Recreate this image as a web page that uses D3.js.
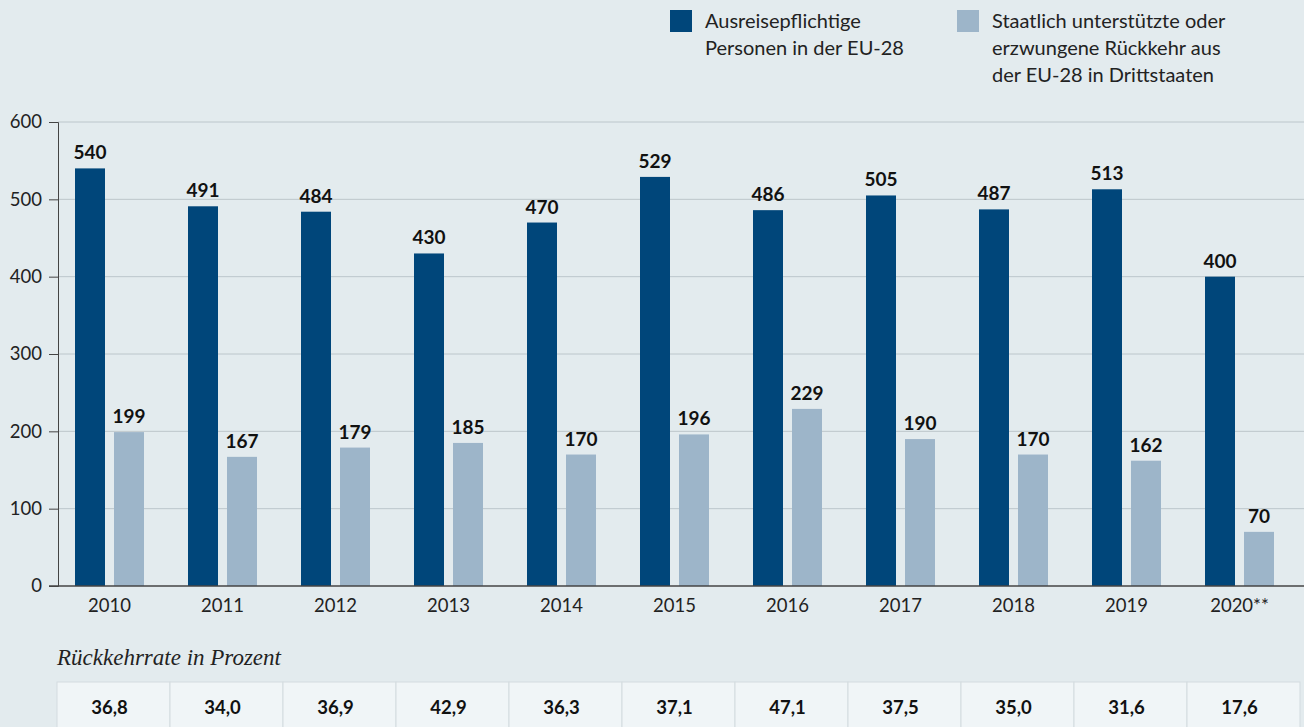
<!DOCTYPE html>
<html>
<head>
<meta charset="utf-8">
<script src="https://cdn.jsdelivr.net/npm/d3@7"></script>
<style>
  body { margin: 0; background: #e3ebee; }
  svg { display: block; font-family: Lato, "Noto Sans", sans-serif; }
</style>
</head>
<body>
<div id="chart"></div>
<script>
// Chart size
var w = 1304;
var h = 727;

// Data
var years = ["2010", "2011", "2012", "2013", "2014", "2015", "2016", "2017", "2018", "2019", "2020**"];
var ausreisepflichtig = [540, 491, 484, 430, 470, 529, 486, 505, 487, 513, 400];
var rueckkehr = [199, 167, 179, 185, 170, 196, 229, 190, 170, 162, 70];
var rueckkehrrate = ["36,8", "34,0", "36,9", "42,9", "36,3", "37,1", "47,1", "37,5", "35,0", "31,6", "17,6"];
var yTicks = [0, 100, 200, 300, 400, 500, 600];
var seriesNames = [
    ["Ausreisepflichtige", "Personen in der EU-28"],
    ["Staatlich unterstützte oder", "erzwungene Rückkehr aus", "der EU-28 in Drittstaaten"]
];

var darkBlue = "#00467a";
var lightBlue = "#9db5c9";
var barW = 30;
var gap = 9;

var svg = d3.select("#chart")
    .append("svg")
    .attr("width", w)
    .attr("height", h);

svg.append("rect").attr("width", w).attr("height", h).attr("fill", "#e3ebee");

// Scales
var xScale = d3.scaleBand()
    .domain(years)
    .range([53, 1296]);

var yScale = d3.scaleLinear()
    .domain([0, 600])
    .range([586, 122]);

// Grid lines
svg.append("g")
    .selectAll("line")
    .data(yTicks.slice(1))
    .enter()
    .append("line")
    .attr("x1", 58)
    .attr("x2", w)
    .attr("y1", function (d) { return yScale(d); })
    .attr("y2", function (d) { return yScale(d); })
    .attr("stroke", "#bcc6cb")
    .attr("stroke-width", 1);

// Y axis
var yAxis = d3.axisLeft(yScale).tickValues(yTicks).tickSize(9).tickPadding(7);
var yAxisG = svg.append("g")
    .attr("transform", "translate(58,0)")
    .call(yAxis);
yAxisG.select(".domain").attr("stroke", "#444");
yAxisG.selectAll(".tick line").attr("stroke", "#444");
yAxisG.selectAll(".tick text")
    .attr("font-size", 18.5)
    .attr("fill", "#222")
    .attr("font-family", "Lato, sans-serif");

// Bars
var groups = svg.append("g")
    .selectAll("g")
    .data(years)
    .enter()
    .append("g")
    .attr("transform", function (d) { return "translate(" + (xScale(d) + xScale.bandwidth() / 2) + ",0)"; });

groups.append("rect")
    .attr("x", -gap / 2 - barW)
    .attr("y", function (d, i) { return yScale(ausreisepflichtig[i]); })
    .attr("width", barW)
    .attr("height", function (d, i) { return yScale(0) - yScale(ausreisepflichtig[i]); })
    .attr("fill", darkBlue);

groups.append("rect")
    .attr("x", gap / 2)
    .attr("y", function (d, i) { return yScale(rueckkehr[i]); })
    .attr("width", barW)
    .attr("height", function (d, i) { return yScale(0) - yScale(rueckkehr[i]); })
    .attr("fill", lightBlue);

// Value labels
groups.append("text")
    .attr("x", -gap / 2 - barW / 2)
    .attr("y", function (d, i) { return yScale(ausreisepflichtig[i]) - 9; })
    .attr("text-anchor", "middle")
    .attr("font-size", 19)
    .attr("font-weight", "bold")
    .attr("fill", "#111")
    .text(function (d, i) { return ausreisepflichtig[i]; });

groups.append("text")
    .attr("x", gap / 2 + barW / 2)
    .attr("y", function (d, i) { return yScale(rueckkehr[i]) - 9; })
    .attr("text-anchor", "middle")
    .attr("font-size", 19)
    .attr("font-weight", "bold")
    .attr("fill", "#111")
    .text(function (d, i) { return rueckkehr[i]; });

// X axis line and labels
svg.append("line")
    .attr("x1", 49)
    .attr("x2", w)
    .attr("y1", yScale(0))
    .attr("y2", yScale(0))
    .attr("stroke", "#444")
    .attr("stroke-width", 1.5);

groups.append("text")
    .attr("y", yScale(0) + 26)
    .attr("text-anchor", "middle")
    .attr("font-size", 18.5)
    .attr("fill", "#222")
    .text(function (d) { return d; });

// Legend
var legend = svg.append("g")
    .selectAll("g")
    .data(seriesNames)
    .enter()
    .append("g")
    .attr("transform", function (d, i) { return "translate(" + (670 + i * 287) + ",10)"; });

legend.append("rect")
    .attr("width", 22)
    .attr("height", 22)
    .attr("fill", function (d, i) { return i === 0 ? darkBlue : lightBlue; });

legend.selectAll("text")
    .data(function (d) { return d; })
    .enter()
    .append("text")
    .attr("x", 35)
    .attr("y", function (d, i) { return 18 + i * 27; })
    .attr("font-size", 20)
    .attr("fill", "#222")
    .text(function (d) { return d; });

// Table header
svg.append("text")
    .attr("x", 57)
    .attr("y", 665)
    .attr("font-family", "'Liberation Serif', serif")
    .attr("font-style", "italic")
    .attr("font-size", 23)
    .attr("fill", "#222")
    .text("Rückkehrrate in Prozent");

// Table cells
var cells = svg.append("g")
    .selectAll("g")
    .data(years)
    .enter()
    .append("g")
    .attr("transform", function (d) { return "translate(" + (xScale(d) + 4) + ",682)"; });

cells.append("rect")
    .attr("width", xScale.step())
    .attr("height", 50)
    .attr("fill", "#f0f5f7")
    .attr("stroke", "#d3dbdf")
    .attr("stroke-width", 1);

cells.append("text")
    .attr("x", xScale.step() / 2 - 4)
    .attr("y", 32)
    .attr("text-anchor", "middle")
    .attr("font-size", 18.5)
    .attr("font-weight", "bold")
    .attr("fill", "#111")
    .text(function (d, i) { return rueckkehrrate[i]; });
</script>
</body>
</html>
